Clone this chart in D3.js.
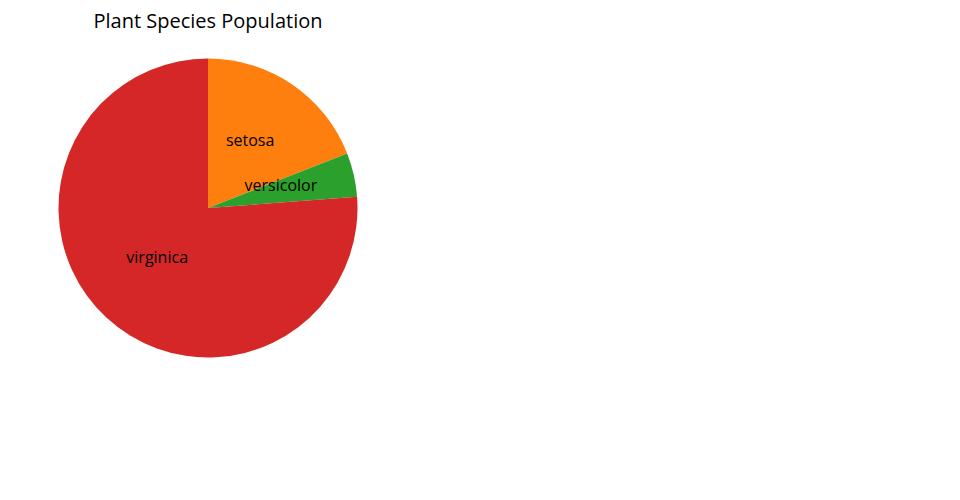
<!DOCTYPE html>
<html>
<head>
<meta charset="utf-8">
<script src="https://cdn.jsdelivr.net/npm/d3@7"></script>
<style>
  body { margin: 0; background: #fff; }
  text { font-family: "Open Sans", sans-serif; }
</style>
</head>
<body>
<svg id="chart" width="960" height="500"></svg>
<script>
// data
const species = ["setosa", "versicolor", "virginica"];
const population = [20, 5, 80];
const colors = ["#ff7f0e", "#2ca02c", "#d62728"];

const svg = d3.select("#chart");
const cx = 208, cy = 208, r = 149.5;

svg.append("text")
  .attr("x", cx)
  .attr("y", 28)
  .attr("text-anchor", "middle")
  .style("font-size", "20px")
  .attr("fill", "#000")
  .text("Plant Species Population");

const data = species.map((s, i) => ({ name: s, value: population[i] }));
const pie = d3.pie().value(d => d.value).sort(null);
const arcs = pie(data);

const arc = d3.arc().innerRadius(0).outerRadius(r);
const labelArc = d3.arc().innerRadius(r * 0.5).outerRadius(r * 0.5);

const colour = d3.scaleOrdinal().domain(species).range(colors);

const g = svg.append("g").attr("transform", `translate(${cx},${cy})`);

g.selectAll("path")
  .data(arcs)
  .join("path")
  .attr("d", arc)
  .attr("fill", d => colour(d.data.name));

g.selectAll("text")
  .data(arcs)
  .join("text")
  .attr("x", d => labelArc.centroid(d)[0])
  .attr("y", d => labelArc.centroid(d)[1])
  .attr("text-anchor", "middle")
  .style("font-size", "16px")
  .attr("fill", "#000")
  .text(d => d.data.name);
</script>
</body>
</html>
